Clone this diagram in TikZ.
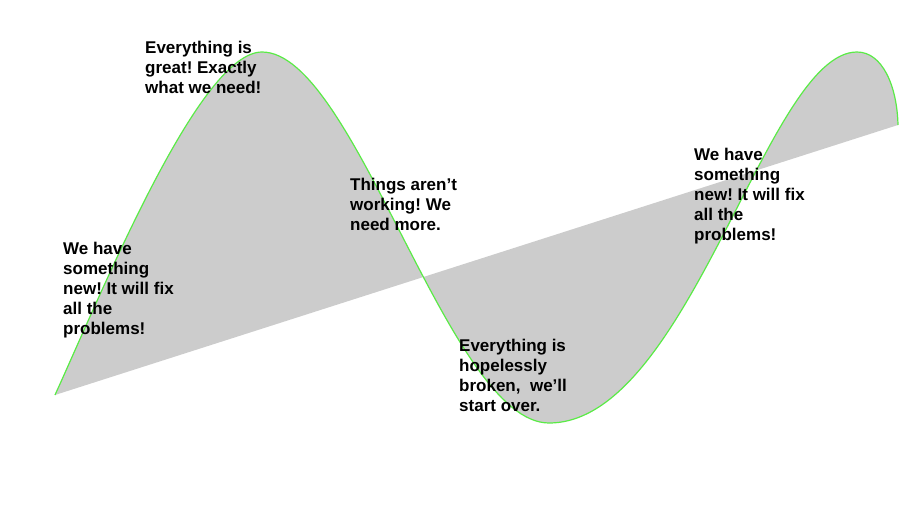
\documentclass[tikz,border=0pt]{standalone}
\usepackage{fontspec}
\setmainfont{Liberation Sans}
\frenchspacing
\definecolor{wavegray}{RGB}{204,204,204}
\definecolor{wavegreen}{RGB}{90,235,70}
\begin{document}
\begin{tikzpicture}[x=1pt,y=-1pt,
  lbl/.style={font=\fontsize{17}{20}\selectfont\bfseries, align=left, anchor=base west, inner sep=0pt, text=black}]
\useasboundingbox (0,0) rectangle (900,506);
\coordinate (s) at (55,395);
\coordinate (pa) at (262,52);
\coordinate (tb) at (549,423);
\coordinate (pc) at (857,52);
\coordinate (e) at (898,125);
\fill[wavegray] (s) .. controls (105,285) and (200,52) .. (pa)
  .. controls (355,52) and (449,423) .. (tb)
  .. controls (689,423) and (767,52) .. (pc)
  .. controls (882,52) and (897,85) .. (e) -- cycle;
\draw[wavegreen, line width=1.2pt] (s) .. controls (105,285) and (200,52) .. (pa)
  .. controls (355,52) and (449,423) .. (tb)
  .. controls (689,423) and (767,52) .. (pc)
  .. controls (882,52) and (897,85) .. (e);
% anchor base west = baseline of the last line
\node[lbl] (t1) at (63,334) {We have\\something\\new! It will fix\\all the\\problems!};
\node[lbl] (t2) at (145,93) {Everything is\\great! Exactly\\what we need!};
\node[lbl] (t3) at (350,230) {Things aren’t\\working! We\\need more.};
\node[lbl] (t4) at (459,411) {Everything is\\hopelessly\\broken,\ \ we’ll\\start over.};
\node[lbl] (t5) at (694,240) {We have\\something\\new! It will fix\\all the\\problems!};
\end{tikzpicture}
\end{document}
